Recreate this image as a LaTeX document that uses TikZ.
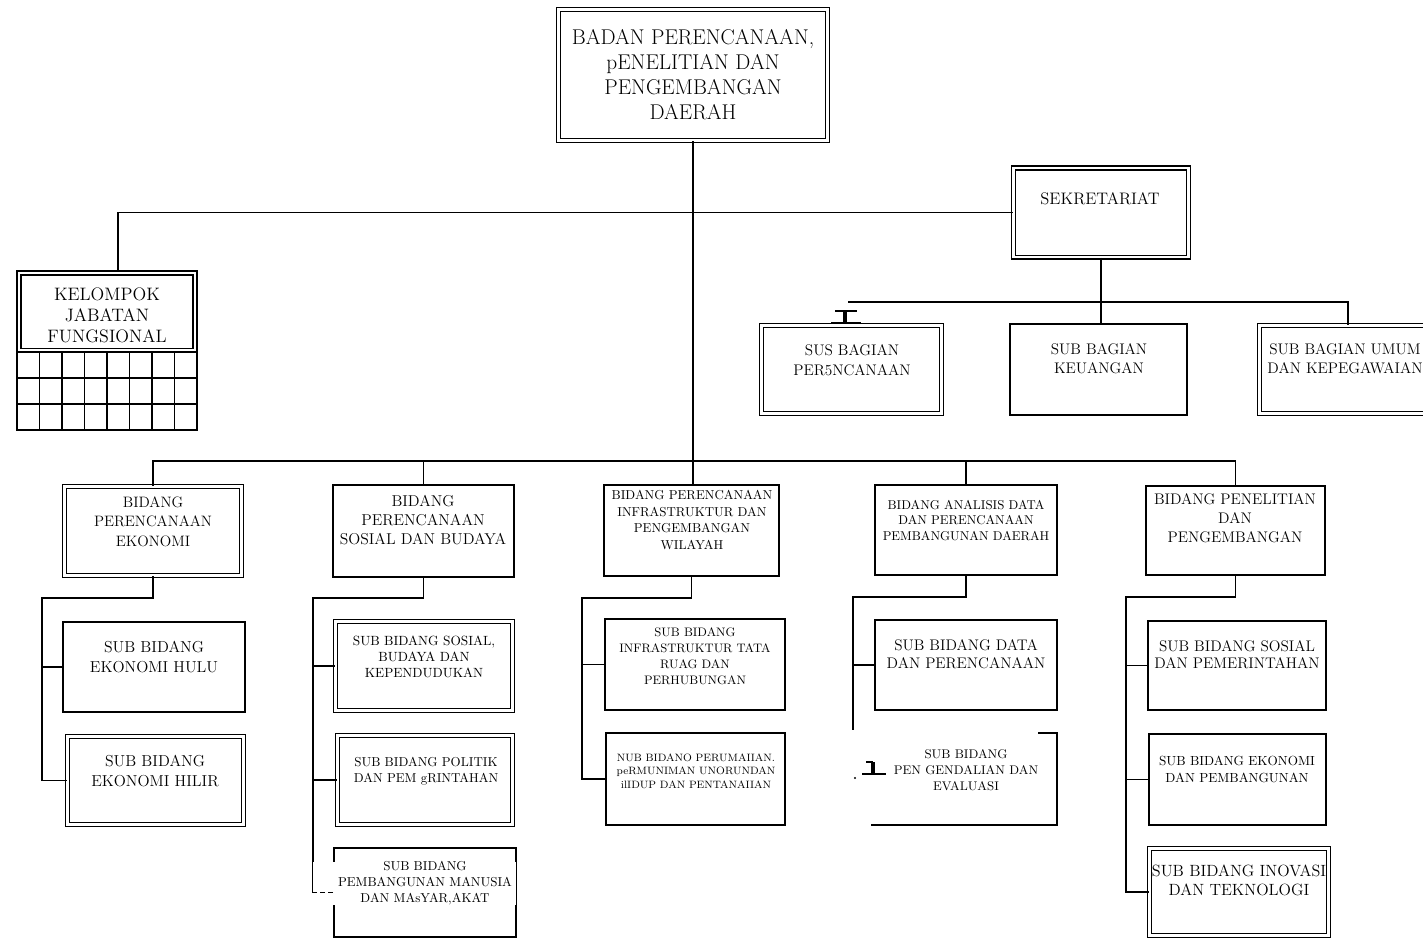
\documentclass[tikz,border=0pt]{standalone}
\usepackage{tikz}

\begin{document}
\begin{tikzpicture}
[x=0.75pt, y=-0.75pt, every node/.style={inner sep=0pt},
 box/.style={draw=black, line width=1.4pt, fill=white},
 dbox/.style={box, double, double distance=1.8pt, line width=1.1pt},
 conn/.style={line width=1.4pt, color=black},
 txt/.style={align=center, text=black},
 patch/.style={fill=white, draw=none}]
\useasboundingbox (0,0) rectangle (1423,939);
\fill [white] (0,0) rectangle (1423,939);
\clip (0,0) rectangle (1423,939);
% boxes
\node (kepala) [dbox, minimum width=202pt, minimum height=98pt] at (693,75) {};
\node (sekr) [dbox, minimum width=131pt, minimum height=67pt] at (1101,212.5) {};
\node (kjf) [dbox, minimum width=132pt, minimum height=58pt] at (107,311.5) {};
\node (grid) [draw=black, line width=1.2pt, minimum width=135pt, minimum height=58.5pt] at (107,391) {};
\node (sus) [dbox, minimum width=135pt, minimum height=66pt] at (851.5,369.5) {};
\node (keu) [box, minimum width=132.75pt, minimum height=68.25pt] at (1098.5,369.5) {};
\node (umum) [dbox, minimum width=134pt, minimum height=66pt] at (1349,369.5) {};
\node (b1) [dbox, minimum width=133pt, minimum height=67pt] at (153,531) {};
\node (b2) [box, minimum width=135.75pt, minimum height=69pt] at (423.5,531) {};
\node (b3) [box, minimum width=131.25pt, minimum height=68.25pt] at (691.5,530.5) {};
\node (b4) [box, minimum width=136.5pt, minimum height=67.5pt] at (966,530) {};
\node (b5) [box, minimum width=134.25pt, minimum height=66.75pt] at (1235.5,530.5) {};
\node (s11) [box, minimum width=136.5pt, minimum height=67.5pt] at (154,667) {};
\node (s12) [dbox, minimum width=132pt, minimum height=66pt] at (155.5,780.5) {};
\node (s21) [dbox, minimum width=133pt, minimum height=67pt] at (424,666) {};
\node (s22) [dbox, minimum width=131.5pt, minimum height=67pt] at (425,780) {};
\node (s23) [box, minimum width=136.5pt, minimum height=66.75pt] at (425,892.5) {};
\node (s31) [box, minimum width=135pt, minimum height=68.25pt] at (695,664.5) {};
\node (s32) [box, minimum width=134.25pt, minimum height=69pt] at (695.5,779) {};
\node (s41) [box, minimum width=136.5pt, minimum height=67.5pt] at (966,665) {};
\node (s42) [box, minimum width=138.75pt, minimum height=69pt] at (964.5,779) {};
\node (s51) [box, minimum width=133.5pt, minimum height=66.75pt] at (1237,665.5) {};
\node (s52) [box, minimum width=132.75pt, minimum height=68.25pt] at (1237.5,779.5) {};
\node (s53) [dbox, minimum width=134.5pt, minimum height=65.5pt] at (1239,892) {};
% cells under kelompok
\foreach \i in {1,...,7} \draw [line width=1.2pt] ({17+22.5*\i},352) -- ({17+22.5*\i},430);
\foreach \j in {378,404} \draw [line width=1.2pt] (17,\j) -- (197,\j);
% connectors
\coordinate (bus) at (693,461);
\coordinate (sl) at (848,302);
\coordinate (sr) at (1348,302);
\draw [conn, line width=0.8pt] (kepala.south) -- (kepala.south |- b3.north);
\draw [conn] (b1.north) |- (bus) -| (b5.north);
\draw [conn] (b2.north) -- (b2.north |- bus);
\draw [conn] (b4.north) -- (b4.north |- bus);
\draw [conn] (sekr.west) -| ([xshift=8pt]kjf.north);
\draw [conn] (sekr.south) -- (sekr.south |- keu.north);
\draw [conn] (sl) -- (sr) -- (sr |- umum.north);
\coordinate (c1) at (42,598);
\draw [conn] (b1.south) |- (c1) |- (s12.west);
\draw [conn] (c1 |- s11.west) -- (s11.west);
\coordinate (c2) at (313,598);
\draw [conn] (b2.south) |- (c2) |- (s23.west);
\draw [conn] (c2 |- s21.west) -- (s21.west);
\draw [conn] (c2 |- s22.west) -- (s22.west);
\coordinate (c3) at (582,598);
\draw [conn] (b3.south) |- (c3) |- (s32.west);
\draw [conn] (c3 |- s31.west) -- (s31.west);
\coordinate (c4) at (853,597);
\draw [conn] (b4.south) |- (c4) |- ([yshift=7.5pt]s42.west);
\draw [conn] (c4 |- s41.west) -- (s41.west);
\coordinate (c5) at (1126,597);
\draw [conn] (b5.south) |- (c5) |- (s53.west);
\draw [conn] (c5 |- s51.west) -- (s51.west);
\draw [conn] (c5 |- s52.west) -- (s52.west);
% scanned patches
\node (p23) [patch, minimum width=152pt, minimum height=32pt] at (414.5,883.5) {};
\node (p42) [patch, minimum width=140pt, minimum height=70pt] at (944.5,777) {};
\draw [conn, dash pattern=on 4pt off 2pt] (s23.west) -- ++(-20,0);
% marks
\coordinate (ib) at (845,311);
\draw [line width=1.2pt] (ib) ++(-10,0) -- ++(22,0);
\draw [line width=3pt] (ib) -- ++(0,12);
\draw [line width=1.2pt] (ib) ++(-14,12) -- ++(30,0);
\coordinate (one) at (873,762);
\draw [line width=1.2pt] (one) ++(-7,0) -- ++(7,0);
\draw [line width=2.5pt] (one) -- ++(0,12);
\draw [line width=1.2pt] (one) ++(-11,12) -- ++(24,0);
\fill (855,778) circle (0.8pt);
% texts
\node (kepala-t) [txt, font=\fontsize{16}{18.75}\selectfont] at (693,75) {BADAN PERENCANAAN,\\pENELITIAN DAN\\PENGEMBANGAN\\DAERAH};
\node (sekr-t) [txt, font=\fontsize{12.5}{15}\selectfont] at (1100,199) {SEKRETARIAT};
\node (kjf-t) [txt, font=\fontsize{13.5}{16}\selectfont] at (107,315.5) {KELOMPOK\\JABATAN\\FUNGSIONAL};
\node (sus-t) [txt, font=\fontsize{11.5}{15}\selectfont] at (852,360) {SUS BAGIAN\\PER5NCANAAN};
\node (keu-t) [txt, font=\fontsize{11.5}{14.5}\selectfont] at (1099,358.5) {SUB BAGIAN\\KEUANGAN};
\node (umum-t) [txt, font=\fontsize{11.5}{14.5}\selectfont] at (1345,358.5) {SUB BAGIAN UMUM\\DAN KEPEGAWAIAN};
\node (b1-t) [txt, font=\fontsize{11.3}{14.5}\selectfont] at (153,521.5) {BIDANG\\PERENCANAAN\\EKONOMI};
\node (b2-t) [txt, font=\fontsize{11.8}{14.25}\selectfont] at (423,520) {BIDANG\\PERENCANAAN\\SOSIAL DAN BUDAYA};
\node (b3-t) [txt, font=\fontsize{9.7}{12.5}\selectfont] at (692,520) {BIDANG PERENCANAAN\\INFRASTRUKTUR DAN\\PENGEMBANGAN\\WILAYAH};
\node (b4-t) [txt, font=\fontsize{9.6}{11.6}\selectfont] at (966,520.5) {BIDANG ANALISIS DATA\\DAN PERENCANAAN\\PEMBANGUNAN DAERAH};
\node (b5-t) [txt, font=\fontsize{11.5}{14.3}\selectfont] at (1235,518) {BIDANG PENELITIAN\\DAN\\PENGEMBANGAN};
\node (s11-t) [txt, font=\fontsize{11.9}{15}\selectfont] at (154,657) {SUB BIDANG\\EKONOMI HULU};
\node (s12-t) [txt, font=\fontsize{11.9}{15}\selectfont] at (155,770.5) {SUB BIDANG\\EKONOMI HILIR};
\node (s21-t) [txt, font=\fontsize{10}{12}\selectfont] at (424,657) {SUB BIDANG SOSIAL,\\BUDAYA DAN\\KEPENDUDUKAN};
\node (s22-t) [txt, font=\fontsize{9.7}{12}\selectfont] at (426,771) {SUB BIDANG POLITIK\\DAN PEM gRINTAHAN};
\node (s23-t) [txt, font=\fontsize{9.7}{12}\selectfont] at (425,883) {SUB BIDANG\\PEMBANGUNAN MANUSIA\\DAN MAsYAR,AKAT};
\node (s31-t) [txt, font=\fontsize{9.2}{12}\selectfont] at (695,656) {SUB BIDANG\\INFRASTRUKTUR TATA\\RUAG DAN\\PERHUBUNGAN};
\node (s32-t) [txt, font=\fontsize{8}{10}\selectfont] at (696,771) {NUB BIDANO PERUMAIIAN.\\peRMUNIMAN UNORUNDAN\\ilIDUP DAN PENTANAIIAN};
\node (s41-t) [txt, font=\fontsize{11.5}{13.5}\selectfont] at (966,654) {SUB BIDANG DATA\\DAN PERENCANAAN};
\node (s42-t) [txt, font=\fontsize{9.4}{12}\selectfont] at (966,770) {SUB BIDANG\\PEN GENDALIAN DAN\\EVALUASI};
\node (s51-t) [txt, font=\fontsize{11.5}{13}\selectfont] at (1237,654.5) {SUB BIDANG SOSIAL\\DAN PEMERINTAHAN};
\node (s52-t) [txt, font=\fontsize{9.9}{12.8}\selectfont] at (1237,769.5) {SUB BIDANG EKONOMI\\DAN PEMBANGUNAN};
\node (s53-t) [txt, font=\fontsize{12.2}{14.5}\selectfont] at (1239,880.5) {SUB BIDANG INOVASI\\DAN TEKNOLOGI};
\end{tikzpicture}
\end{document}
